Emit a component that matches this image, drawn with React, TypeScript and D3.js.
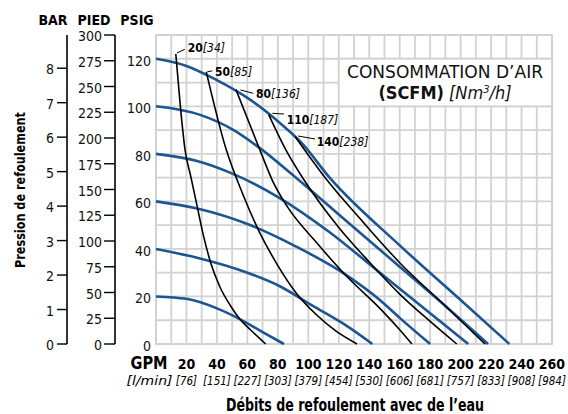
import React from 'react';
import * as d3 from 'd3';

// ---------- data ----------
const psigTicks = [0, 20, 40, 60, 80, 100, 120];
const barTicks = [0, 1, 2, 3, 4, 5, 6, 7, 8];
const piedTicks = [0, 25, 50, 75, 100, 125, 150, 175, 200, 225, 250, 275, 300];
const gpmTicks = [20, 40, 60, 80, 100, 120, 140, 160, 180, 200, 220, 240, 260];
const lpmLabels = ['76', '151', '227', '303', '379', '454', '530', '606', '681', '757', '833', '908', '984'];

// constant outlet pressure curves (blue) [gpm, psig]
const blue20: [number, number][] = [[0, 20], [20, 19], [40, 15], [55, 10.5], [70, 5], [84, 0]];
const blue40: [number, number][] = [[0, 40], [27, 36.3], [60, 30], [81, 24.4], [103, 16], [125, 7.7], [142, 0]];
const blue60: [number, number][] = [[0, 60], [27, 57], [60, 50.5], [92, 41], [125, 29], [147, 18.5], [160, 11], [180, 0]];
const blue80: [number, number][] = [[0, 80], [27, 77], [49, 72], [81, 61.5], [114, 47], [147, 30], [205, 0]];
const blue100: [number, number][] = [[0, 100], [29, 96.4], [51, 90], [68, 82.5], [90, 71], [120, 54.5], [160, 32.5], [190, 16], [218, 0]];
const blue120: [number, number][] = [[0, 120], [20, 117], [40, 111], [62, 102.7], [84, 91.5], [95, 85], [114, 70], [160, 41.5], [200, 18.5], [232, 0]];
const blueCurves = [blue20, blue40, blue60, blue80, blue100, blue120];

// constant air consumption curves (black) [gpm, psig]
const airScfm = [20, 50, 80, 110, 140];
const airNm3h = [34, 85, 136, 187, 238];
const air20: [number, number][] = [[13, 122], [16, 100], [19, 82], [23, 70], [27, 58], [31, 46], [36, 34], [42, 24], [49, 16], [55, 10.5], [62, 6], [72, 0]];
const air50: [number, number][] = [[33, 114.5], [46, 82], [57, 63], [68, 47], [80, 33], [92, 21.5], [105, 12.5], [118, 5.5], [132, 0]];
const air80: [number, number][] = [[52.5, 107], [68, 82], [77, 68], [86, 58], [105.5, 42.6], [125, 28.6], [147, 15], [160, 6], [168, 0]];
const air110: [number, number][] = [[74, 96.5], [85, 82], [97, 69.2], [120, 49], [140, 34.5], [160, 21], [180, 9.5], [197.5, 0]];
const air140: [number, number][] = [[91.3, 87.3], [112, 69.2], [135, 52], [160, 34.2], [190, 16], [216, 0]];
const airCurves = [air20, air50, air80, air110, air140];

// ---------- layout ----------
const W = 568, H = 414;
const L = 156, R = 552, T = 35, B = 344;
const F = "'DejaVu Sans Condensed','DejaVu Sans',sans-serif";
const BLUE = '#1b5592';
const GRID = '#d2d2d2';
const labelOffsets = [
  { l1: [1, -1], l2: [9, -4.7], t: [12, -2.3] },
  { l1: [1, 0], l2: [6, -1], t: [8.7, 3.9] },
  { l1: [4.5, 0.3], l2: [17.3, 3.6], t: [20, 8.6] },
  { l1: [3.6, -1.3], l2: [15.3, -0.6], t: [18, 9.4] },
  { l1: [3, -0.5], l2: [20, 2.5], t: [21.7, 9.5] },
];

export default function App() {
  const x = d3.scaleLinear().domain([0, 260]).range([L, R]);
  const y = d3.scaleLinear().domain([0, 130]).range([B, T]);
  const yBar = d3.scaleLinear().domain([0, 130 / 14.5038]).range([B, T]);
  const yFt = d3.scaleLinear().domain([0, 300]).range([B, T]);
  const line = d3.line<[number, number]>().x(d => x(d[0])).y(d => y(d[1])).curve(d3.curveMonotoneX);

  const vGrid = d3.range(0, 261, 10);
  const hGrid = d3.range(0, 131, 10);
  const BAR_X = 67, FT_X = 115;

  return (
    <svg width={W} height={H} style={{ position: 'absolute', left: 0, top: 0, background: '#fff', fontStretch: 'condensed' }} fontFamily={F}>
      <rect x={0} y={0} width={W} height={H} fill="#fff" />
      {/* grid */}
      {vGrid.map(g => (
        <line key={'v' + g} x1={x(g)} x2={x(g)} y1={T} y2={B} stroke={GRID} strokeWidth={1.8} />
      ))}
      {hGrid.map(g => (
        <line key={'h' + g} x1={L} x2={R} y1={y(g)} y2={y(g)} stroke={GRID} strokeWidth={1.8} />
      ))}
      <rect x={L} y={T} width={R - L} height={B - T} fill="none" stroke={GRID} strokeWidth={1.8} />

      {/* legend box */}
      <rect x={x(120)} y={y(120)} width={x(260) - x(120)} height={y(100) - y(120)} fill="#fff" stroke={GRID} strokeWidth={1.8} />
      <text x={445} y={78} textAnchor="middle" fontSize={18} fill="#111" textLength={196} lengthAdjust="spacingAndGlyphs">CONSOMMATION D’AIR</text>
      <text x={445} y={99} textAnchor="middle" fontSize={18} fill="#111">
        <tspan fontWeight="bold">(SCFM)</tspan>
        <tspan fontStyle="italic"> [Nm</tspan>
        <tspan fontStyle="italic" fontSize={11} dy={-6}>3</tspan>
        <tspan fontStyle="italic" dy={6}>/h]</tspan>
      </text>

      {/* blue curves */}
      {blueCurves.map((c, i) => (
        <path key={'b' + i} d={line(c) || ''} fill="none" stroke={BLUE} strokeWidth={2.6} />
      ))}
      {/* black curves */}
      {airCurves.map((c, i) => (
        <path key={'a' + i} d={line(c) || ''} fill="none" stroke="#000" strokeWidth={1.6} />
      ))}
      {/* curve labels */}
      {airCurves.map((c, i) => {
        const tx = x(c[0][0]), ty = y(c[0][1]);
        const o = labelOffsets[i];
        return (
          <g key={'l' + i}>
            <line x1={tx + o.l1[0]} y1={ty + o.l1[1]} x2={tx + o.l2[0]} y2={ty + o.l2[1]} stroke="#000" strokeWidth={1} />
            <text x={tx + o.t[0]} y={ty + o.t[1]} fontSize={12} fill="#000">
              <tspan fontWeight="bold">{airScfm[i]}</tspan>
              <tspan fontStyle="italic">[{airNm3h[i]}]</tspan>
            </text>
          </g>
        );
      })}

      {/* PSIG labels */}
      {psigTicks.map(t => (
        <text key={'p' + t} x={151} y={y(t) + 7} textAnchor="end" fontSize={14} fill="#111">{t}</text>
      ))}

      {/* BAR axis */}
      <line x1={BAR_X} x2={BAR_X} y1={T} y2={B} stroke="#000" strokeWidth={1.6} />
      {barTicks.map(t => (
        <g key={'bar' + t}>
          <line x1={BAR_X - 10} x2={BAR_X} y1={yBar(t)} y2={yBar(t)} stroke="#000" strokeWidth={1.4} />
          <text x={BAR_X - 13} y={yBar(t) + 6} textAnchor="end" fontSize={14} fill="#111">{t}</text>
        </g>
      ))}
      {/* PIED axis */}
      <line x1={FT_X} x2={FT_X} y1={T} y2={B} stroke="#000" strokeWidth={1.6} />
      {piedTicks.map(t => (
        <g key={'ft' + t}>
          <line x1={FT_X - 11} x2={FT_X} y1={yFt(t)} y2={yFt(t)} stroke="#000" strokeWidth={1.4} />
          <text x={FT_X - 13} y={yFt(t) + 6} textAnchor="end" fontSize={14} fill="#111">{t}</text>
        </g>
      ))}

      {/* headers */}
      <text x={53} y={25} textAnchor="middle" fontSize={14} fontWeight="bold" fill="#000">BAR</text>
      <text x={94} y={25} textAnchor="middle" fontSize={14} fontWeight="bold" fill="#000">PIED</text>
      <text x={137} y={25} textAnchor="middle" fontSize={14} fontWeight="bold" fill="#000">PSIG</text>

      {/* y title */}
      <text transform={`translate(25,190) rotate(-90)`} textAnchor="middle" fontSize={14} fontWeight="bold" fill="#000" textLength={156} lengthAdjust="spacingAndGlyphs">Pression de refoulement</text>

      {/* x axis labels */}
      <text x={149} y={369} textAnchor="middle" fontSize={17} fontWeight="bold" fill="#000" textLength={37} lengthAdjust="spacingAndGlyphs">GPM</text>
      <text x={149.5} y={385} textAnchor="middle" fontSize={13} fontStyle="italic" fill="#000" textLength={46} lengthAdjust="spacingAndGlyphs">[l/min]</text>
      {gpmTicks.map((t, i) => (
        <g key={'g' + t}>
          <text x={x(t)} y={369} textAnchor="middle" fontSize={14} fontWeight="bold" fill="#000">{t}</text>
          <text x={x(t)} y={384.5} textAnchor="middle" fontSize={11.5} fontStyle="italic" fill="#000">[{lpmLabels[i]}]</text>
        </g>
      ))}

      {/* x title */}
      <text x={355} y={410.5} textAnchor="middle" fontSize={17} fontWeight="bold" fill="#000" textLength={258} lengthAdjust="spacingAndGlyphs">Débits de refoulement avec de l’eau</text>
    </svg>
  );
}
